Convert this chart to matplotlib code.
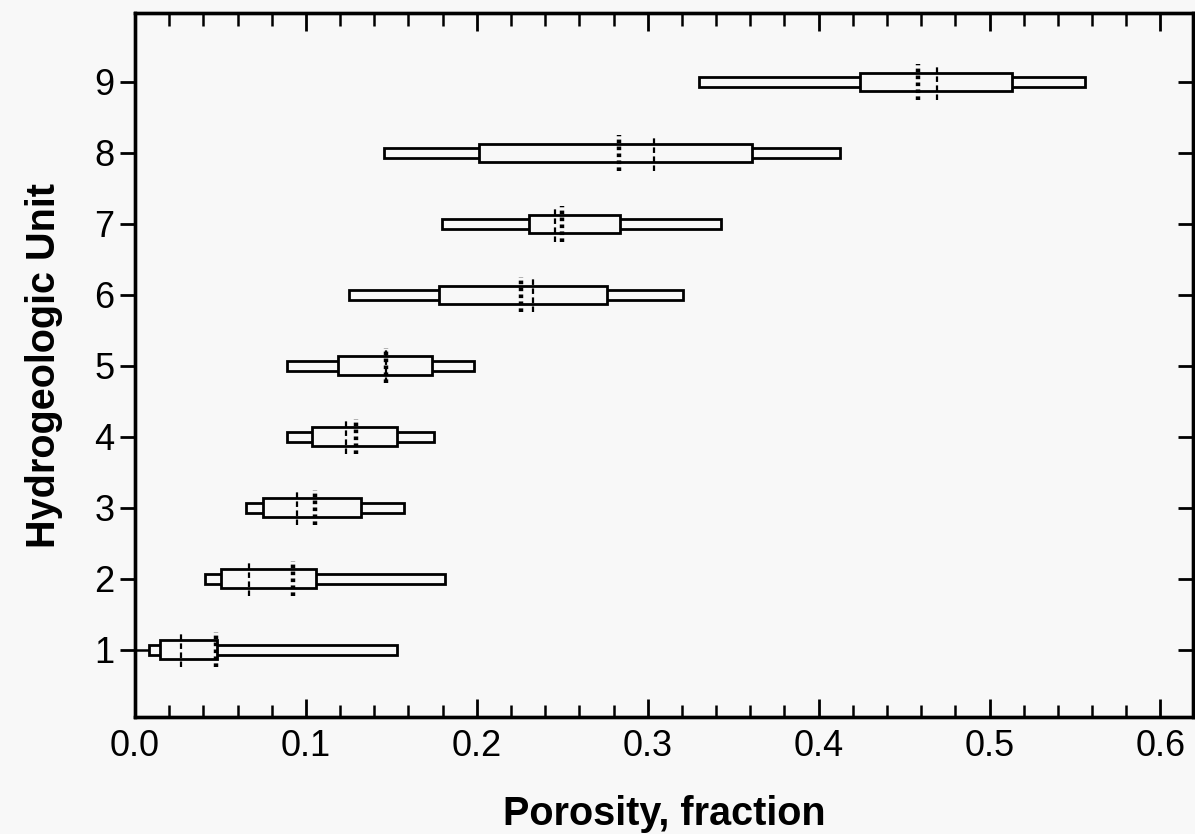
import matplotlib.pyplot as plt
from matplotlib.patches import Rectangle

plt.rcParams['font.family'] = ['Liberation Sans', 'DejaVu Sans']
plt.rcParams['lines.scale_dashes'] = False

# Porosity ranges per hydrogeologic unit
unit = [1, 2, 3, 4, 5, 6, 7, 8, 9]
whisk_lo = [0.0, 0.041, 0.065, 0.089, 0.089, 0.125, 0.180, 0.146, 0.330]
thin_lo = [0.0084, 0.041, 0.065, 0.0887, 0.0887, 0.1253, 0.1797, 0.1456, 0.330]
box_lo = [0.0146, 0.0503, 0.075, 0.1033, 0.1189, 0.1778, 0.2304, 0.2014, 0.4244]
box_hi = [0.048, 0.1058, 0.132, 0.1534, 0.1735, 0.2764, 0.2836, 0.3612, 0.5132]
thin_hi = [0.153, 0.1815, 0.1575, 0.175, 0.1982, 0.3207, 0.3431, 0.4127, 0.5561]
line_a = [0.0267, 0.0665, 0.0945, 0.1234, 0.147, 0.2326, 0.2458, 0.3035, 0.469]
line_b = [0.0476, 0.0924, 0.1054, 0.1292, 0.1468, 0.2261, 0.2501, 0.2832, 0.4582]

bg = '#f8f8f8'
fig = plt.figure(figsize=(11.95, 8.34), dpi=100, facecolor=bg)
ax = fig.add_axes([0.113, 0.1403, 0.8853, 0.8441], facecolor=bg)

hb, ht, hl = 0.13, 0.07, 0.25
for i, u in enumerate(unit):
    if whisk_lo[i] < thin_lo[i]:
        ax.plot([whisk_lo[i], thin_lo[i]], [u, u], color='k', lw=1.8, zorder=2)
    ax.add_patch(Rectangle((thin_lo[i], u - ht), thin_hi[i] - thin_lo[i], 2 * ht,
                           facecolor=bg, edgecolor='k', lw=2.0, zorder=2))
    ax.add_patch(Rectangle((box_lo[i], u - hb), box_hi[i] - box_lo[i], 2 * hb,
                           facecolor=bg, edgecolor='k', lw=2.0, zorder=3))
    ax.plot([line_a[i], line_a[i]], [u - hl, u + hl], color='k', lw=1.6,
            linestyle=(0, (4, 2.5)), zorder=4)
    ax.plot([line_b[i], line_b[i]], [u - hl, u + hl], color='k', lw=3.2,
            linestyle=(0, (2.6, 2.4)), zorder=4)

ax.set_xlim(0, 0.619)
ax.set_ylim(0.05, 9.97)
ax.set_xticks([0.0, 0.1, 0.2, 0.3, 0.4, 0.5, 0.6])
ax.set_xticks([x / 100 for x in range(0, 62, 2)], minor=True)
ax.set_yticks(unit)
ax.set_xticklabels(['0.0', '0.1', '0.2', '0.3', '0.4', '0.5', '0.6'])

ax.tick_params(axis='x', which='major', direction='in', top=True, length=13, width=2,
               labelsize=26, pad=9)
ax.tick_params(axis='x', which='minor', direction='in', top=True, length=9, width=1.8)
ax.tick_params(axis='y', which='major', direction='out', length=11, width=2,
               labelsize=26, pad=4)
ax.tick_params(axis='y', which='minor', left=False)
for s in ax.spines.values():
    s.set_linewidth(2.4)

# inward ticks on the right spine
ax2 = ax.twinx()
ax2.set_ylim(ax.get_ylim())
ax2.set_yticks(unit)
ax2.set_yticklabels([])
ax2.tick_params(axis='y', direction='in', length=11, width=2)
for s in ax2.spines.values():
    s.set_linewidth(2.4)

ax.set_xlabel('Porosity, fraction', fontsize=28.5, fontweight='bold', labelpad=22)
ax.set_ylabel('Hydrogeologic Unit', fontsize=28.5, fontweight='bold', labelpad=22)

fig.savefig('out.png', dpi=100, facecolor=bg)
